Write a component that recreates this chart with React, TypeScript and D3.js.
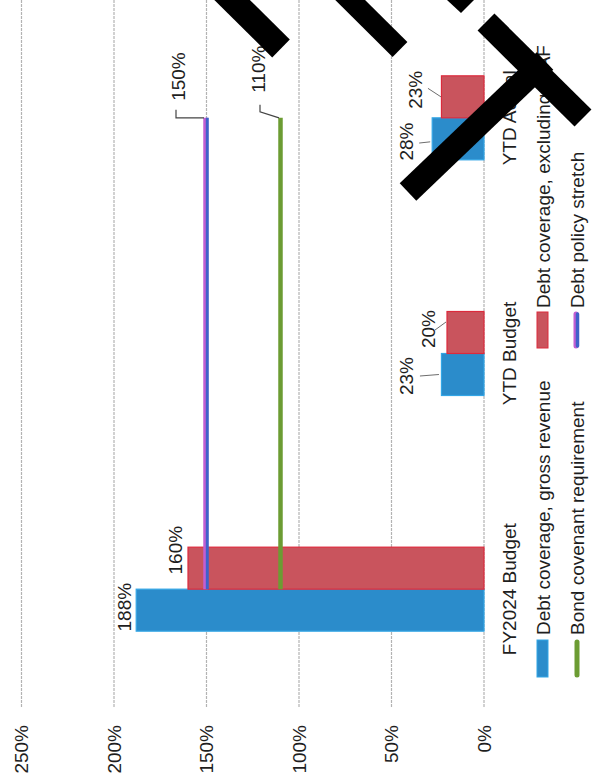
import React from 'react';
import * as d3 from 'd3';

// ---------- data ----------
const categories = ['FY2024 Budget', 'YTD Budget', 'YTD Actual'];
const grossRevenue = [188, 23, 28];
const excludingFees = [160, 20, 23];
const bondCovenant = [110, 110, 110];
const policyStretch = [150, 150, 150];
const valueTicks = [0, 50, 100, 150, 200, 250];
const seriesNames = [
  'Debt coverage, gross revenue',
  'Debt coverage, excluding CIAF',
  'Bond covenant requirement',
  'Debt policy stretch',
];

// ---------- layout / style ----------
const W = 592;
const H = 781;
const FONT = '"Liberation Sans", Arial, Helvetica, sans-serif';
const BLUE = '#2b8ccb';
const BLUE_EDGE = '#33a6e6';
const RED = '#c9545d';
const RED_EDGE = '#dc2a3c';
const GREEN = '#6c9c33';
const STRETCH_BLUE = '#3f62c9';
const STRETCH_PINK = '#c25fd2';
const TEXT = '#1e1e1e';

// label nudges (u offset along category axis, gap from bar end) and leaders [a,b,c,d]
const grossLabelPos = [
  { du: 3, gap: 5, leader: null as null | number[] },
  { du: -1.5, gap: 28.5, leader: [0, 7, 0, 2.5] },
  { du: -2.7, gap: 19, leader: [-1.5, 6, -3, 2] },
];
const exclLabelPos = [
  { du: 18, gap: 6, leader: null as null | number[] },
  { du: 3.5, gap: 12, leader: [-1, 0, 10.5, 1] },
  { du: 7, gap: 19.5, leader: [1.5, 6, 0, 0.5] },
];

// redaction marks drawn over the scanned page (page coordinates)
const marks = [
  { p: [[221, -11], [281, 48.5]], w: 25 },
  { p: [[330, -20], [400, 49.5]], w: 21 },
  { p: [[408, 192], [545, 61]], w: 24 },
  { p: [[486, 22], [583, 118]], w: 24 },
];

export default function App() {
  const x = d3.scaleBand<string>().domain(categories).range([74, 781]);
  const sub = d3.scaleBand<number>().domain([0, 1]).range([-42, 42]);
  const y = d3.scaleLinear().domain([0, 250]).range([484, 21.5]);
  const cx = (c: string) => (x(c) as number) + x.bandwidth() / 2;

  const lineGen = d3
    .line<number>()
    .x((_, i) => cx(categories[i]))
    .y((d) => y(d));

  const bars = [
    { vals: grossRevenue, k: 0, fill: BLUE, edge: BLUE_EDGE, lp: grossLabelPos },
    { vals: excludingFees, k: 1, fill: RED, edge: RED_EDGE, lp: exclLabelPos },
  ];

  const firstU = cx(categories[0]);
  const lastU = cx(categories[categories.length - 1]);
  const yS = y(policyStretch[policyStretch.length - 1]);
  const yB = y(bondCovenant[bondCovenant.length - 1]);

  return (
    <svg
      width={W}
      height={H}
      style={{ position: 'absolute', left: 0, top: 0, background: '#fff' }}
      fontFamily={FONT}
    >
      <rect width={W} height={H} fill="#fff" />
      <g transform={`translate(0,${H}) rotate(-90)`}>
        {/* gridlines */}
        {valueTicks.map((t) => (
          <line
            key={'g' + t}
            x1={74}
            x2={H}
            y1={y(t)}
            y2={y(t)}
            stroke="#b3b3b3"
            strokeWidth={1.2}
            strokeDasharray="3 1"
          />
        ))}
        {/* tick labels */}
        {valueTicks.map((t) => (
          <text key={'t' + t} x={56} y={y(t) + 6.5} textAnchor="end" fontSize={19} fill={TEXT}>
            {t + '%'}
          </text>
        ))}
        {/* bars */}
        {bars.map((s) =>
          s.vals.map((v, i) => {
            const u0 = cx(categories[i]) + (sub(s.k) as number);
            return (
              <rect
                key={`b${s.k}-${i}`}
                x={u0}
                y={y(v)}
                width={sub.bandwidth()}
                height={y(0) - y(v)}
                fill={s.fill}
                stroke={s.edge}
                strokeWidth={1.2}
              />
            );
          })
        )}
        {/* bar labels */}
        {bars.map((s) =>
          s.vals.map((v, i) => {
            const bu = cx(categories[i]) + (sub(s.k) as number) + sub.bandwidth() / 2;
            const lp = s.lp[i];
            const lu = bu + lp.du;
            const base = y(v) - lp.gap;
            return (
              <g key={`l${s.k}-${i}`}>
                {lp.leader && (
                  <line
                    x1={lu + lp.leader[0]}
                    y1={base + lp.leader[1]}
                    x2={bu + lp.leader[2]}
                    y2={y(v) - lp.leader[3]}
                    stroke="#6d6d6d"
                    strokeWidth={1}
                  />
                )}
                <text x={lu} y={base} textAnchor="middle" fontSize={19} fill={TEXT}>
                  {v + '%'}
                </text>
              </g>
            );
          })
        )}
        {/* bond covenant line */}
        <path d={lineGen(bondCovenant) as string} stroke={GREEN} strokeWidth={4.5} fill="none" />
        {/* policy stretch line */}
        <path
          d={lineGen(policyStretch) as string}
          stroke={STRETCH_PINK}
          strokeWidth={4.5}
          fill="none"
          transform="translate(0,-1)"
        />
        <path
          d={lineGen(policyStretch) as string}
          stroke={STRETCH_BLUE}
          strokeWidth={3}
          fill="none"
          transform="translate(0,0.8)"
        />
        {/* line labels */}
        <polyline
          points={`${lastU},${yS - 2.5} ${lastU},${yS - 30.5} ${lastU + 8},${yS - 30.5}`}
          fill="none"
          stroke="#444"
          strokeWidth={1.2}
        />
        <text x={lastU + 17} y={yS - 21.5} fontSize={19} fill={TEXT}>
          {policyStretch[policyStretch.length - 1] + '%'}
        </text>
        <polyline
          points={`${lastU},${yB - 1.5} ${lastU + 6},${yB - 20.5} ${lastU + 13},${yB - 20.5}`}
          fill="none"
          stroke="#444"
          strokeWidth={1.2}
        />
        <text x={lastU + 25} y={yB - 15.5} fontSize={19} fill={TEXT}>
          {bondCovenant[bondCovenant.length - 1] + '%'}
        </text>
        {/* category labels */}
        {categories.map((c) => (
          <text key={c} x={cx(c)} y={516} textAnchor="middle" fontSize={19} fill={TEXT}>
            {c}
          </text>
        ))}
        {/* legend */}
        <rect x={104} y={537} width={37} height={11} fill={BLUE} stroke={BLUE_EDGE} strokeWidth={1} />
        <text x={146} y={549.5} fontSize={19} fill={TEXT}>
          {seriesNames[0]}
        </text>
        <rect x={433} y={537} width={36} height={11} fill={RED} stroke={RED_EDGE} strokeWidth={1} />
        <text x={473} y={549.5} fontSize={19} fill={TEXT}>
          {seriesNames[1]}
        </text>
        <line x1={106} x2={139} y1={577} y2={577} stroke={GREEN} strokeWidth={5} strokeLinecap="round" />
        <text x={146} y={584} fontSize={19} fill={TEXT}>
          {seriesNames[2]}
        </text>
        <line x1={435} x2={467} y1={576} y2={576} stroke={STRETCH_PINK} strokeWidth={5} strokeLinecap="round" />
        <line x1={435} x2={467} y1={577.5} y2={577.5} stroke={STRETCH_BLUE} strokeWidth={3.5} strokeLinecap="round" />
        <text x={473} y={584} fontSize={19} fill={TEXT}>
          {seriesNames[3]}
        </text>
      </g>
      {/* redaction marks on the scanned page */}
      {marks.map((m, i) => (
        <line
          key={'m' + i}
          x1={m.p[0][0]}
          y1={m.p[0][1]}
          x2={m.p[1][0]}
          y2={m.p[1][1]}
          stroke="#000"
          strokeWidth={m.w}
        />
      ))}
      <polygon points="447,0 474,0 461,13" fill="#000" />
    </svg>
  );
}
